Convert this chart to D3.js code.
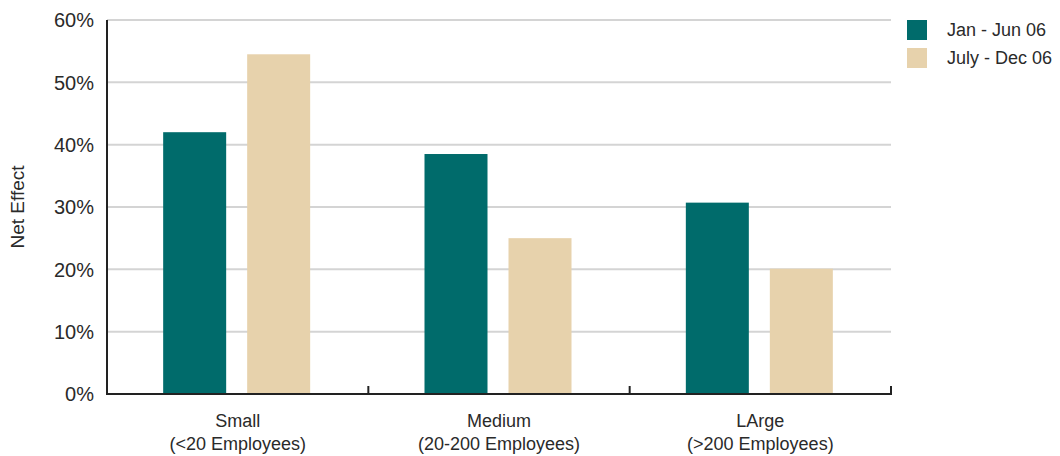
<!DOCTYPE html>
<html>
  <head>
    <script src="https://d3js.org/d3.v7.min.js"></script>
    <style>
      body { margin: 0; background: #fff; }
      text { font-family: "Liberation Sans", Arial, sans-serif; fill: #2a2a2a; }
    </style>
  </head>
  <body>
    <div id="chart"></div>
    <script>
      var categories = ["Small", "Medium", "LArge"];
      var subLabels = ["(<20 Employees)", "(20-200 Employees)", "(>200 Employees)"];
      var series = ["Jan - Jun 06", "July - Dec 06"];
      var janJun = [42, 38.5, 30.7];
      var julDec = [54.5, 25, 20.1];
      var yTicks = [0, 10, 20, 30, 40, 50, 60];
      var colors = ["#006b6b", "#e7d2ac"];

      var margin = { top: 20, left: 107, right: 169, bottom: 62 };
      var W = 1060, H = 456;
      var width = W - margin.left - margin.right;
      var height = H - margin.top - margin.bottom;

      var svg = d3.select("#chart").append("svg")
        .attr("width", W).attr("height", H);
      var g = svg.append("g")
        .attr("transform", "translate(" + margin.left + "," + margin.top + ")");

      var x0 = d3.scaleBand().domain(categories).range([0, width]).padding(0);
      var groupW = 147;
      var x1 = d3.scaleBand().domain(series)
        .range([(x0.bandwidth() - groupW) / 2 - 1, (x0.bandwidth() + groupW) / 2 - 1])
        .paddingInner(0.25).paddingOuter(0);
      var y = d3.scaleLinear().domain([0, 60]).range([height, 0]);

      // gridlines
      g.append("g").selectAll("line")
        .data(yTicks.filter(function (d) { return d > 0; }))
        .enter().append("line")
        .attr("x1", 0).attr("x2", width)
        .attr("y1", function (d) { return y(d); })
        .attr("y2", function (d) { return y(d); })
        .attr("stroke", "#d4d4d4").attr("stroke-width", 2);

      // y labels
      g.append("g").selectAll("text")
        .data(yTicks).enter().append("text")
        .attr("x", -13)
        .attr("y", function (d) { return y(d); })
        .attr("dy", "0.36em")
        .attr("text-anchor", "end")
        .attr("font-size", "20px")
        .text(function (d) { return d + "%"; });

      // bars
      var rows = categories.map(function (c, i) {
        return { cat: c, vals: [janJun[i], julDec[i]] };
      });
      var grp = g.selectAll("g.grp").data(rows).enter().append("g")
        .attr("class", "grp")
        .attr("transform", function (d) { return "translate(" + x0(d.cat) + ",0)"; });
      grp.selectAll("rect")
        .data(function (d) { return d.vals.map(function (v, j) { return { s: series[j], v: v, j: j }; }); })
        .enter().append("rect")
        .attr("x", function (d) { return x1(d.s); })
        .attr("width", x1.bandwidth())
        .attr("y", function (d) { return y(d.v); })
        .attr("height", function (d) { return height - y(d.v); })
        .attr("fill", function (d) { return colors[d.j]; });

      // axes lines
      g.append("line").attr("x1", 0).attr("x2", 0).attr("y1", 0).attr("y2", height + 1)
        .attr("stroke", "#222").attr("stroke-width", 2);
      g.append("line").attr("x1", -1).attr("x2", width + 1).attr("y1", height).attr("y2", height)
        .attr("stroke", "#222").attr("stroke-width", 2);
      g.append("g").selectAll("line")
        .data(categories).enter().append("line")
        .attr("x1", function (d) { return x0(d) + x0.bandwidth(); })
        .attr("x2", function (d) { return x0(d) + x0.bandwidth(); })
        .attr("y1", height).attr("y2", height - 8)
        .attr("stroke", "#222").attr("stroke-width", 2);

      // x labels
      var xl = g.append("g").selectAll("text")
        .data(categories).enter().append("text")
        .attr("text-anchor", "middle")
        .attr("font-size", "18px")
        .attr("transform", function (d) { return "translate(" + (x0(d) + x0.bandwidth() / 2) + "," + (height + 33) + ")"; });
      xl.append("tspan").attr("x", 0).attr("y", 0).text(function (d) { return d; });
      xl.append("tspan").attr("x", 0).attr("y", 23).text(function (d, i) { return subLabels[i]; });

      // y title
      svg.append("text")
        .attr("transform", "translate(24," + (margin.top + height / 2) + ") rotate(-90)")
        .attr("text-anchor", "middle")
        .attr("font-size", "19px")
        .text("Net Effect");

      // legend
      var lg = svg.append("g").attr("transform", "translate(907,20)");
      var li = lg.selectAll("g").data(series).enter().append("g")
        .attr("transform", function (d, i) { return "translate(0," + i * 28 + ")"; });
      li.append("rect").attr("width", 20).attr("height", 20)
        .attr("fill", function (d, i) { return colors[i]; });
      li.append("text").attr("x", 40).attr("y", 10).attr("dy", "0.36em")
        .attr("font-size", "18px").text(function (d) { return d; });
    </script>
  </body>
</html>
